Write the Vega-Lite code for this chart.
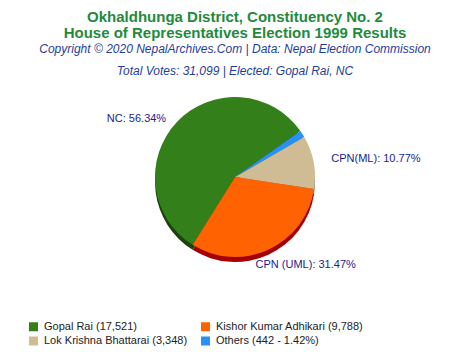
{
  "$schema": "https://vega.github.io/schema/vega-lite/v6.json",
  "width": 470,
  "height": 180,
  "padding": {"left": 0, "right": 0, "top": 10, "bottom": 0},
  "background": "white",
  "title": {
    "text": ["Okhaldhunga District, Constituency No. 2", "House of Representatives Election 1999 Results"],
    "subtitle": ["Copyright © 2020 NepalArchives.Com | Data: Nepal Election Commission", "Total Votes: 31,099 | Elected: Gopal Rai, NC"],
    "anchor": "middle",
    "font": "Liberation Sans",
    "fontSize": 15,
    "fontWeight": "bold",
    "color": "#238a3c",
    "lineHeight": 16,
    "subtitleFont": "Liberation Sans",
    "subtitleFontSize": 12,
    "subtitleFontStyle": "italic",
    "subtitleColor": "#1f3d9a",
    "subtitleLineHeight": 22,
    "subtitlePadding": 3,
    "offset": 10
  },
  "data": {
    "values": [
      {"candidate": "Gopal Rai (17,521)", "party": "NC", "votes": 17521, "label": "NC: 56.34%", "order": 1},
      {"candidate": "Others (442 - 1.42%)", "party": "Others", "votes": 442, "label": "", "order": 2},
      {"candidate": "Lok Krishna Bhattarai (3,348)", "party": "CPN(ML)", "votes": 3348, "label": "CPN(ML): 10.77%", "order": 3},
      {"candidate": "Kishor Kumar Adhikari (9,788)", "party": "CPN (UML)", "votes": 9788, "label": "CPN (UML): 31.47%", "order": 4}
    ]
  },
  "encoding": {
    "theta": {"field": "votes", "type": "quantitative", "stack": true, "scale": {"range": [3.700, 9.983]}},
    "order": {"field": "order", "type": "quantitative"}
  },
  "layer": [
    {
      "mark": {"type": "arc", "outerRadius": 80, "yOffset": 5},
      "encoding": {
        "color": {
          "field": "candidate", "type": "nominal", "legend": null,
          "scale": {
            "domain": ["Gopal Rai (17,521)", "Lok Krishna Bhattarai (3,348)", "Kishor Kumar Adhikari (9,788)", "Others (442 - 1.42%)"],
            "range": ["#1c4210", "#8c7d63", "#a50000", "#1060b0"]
          }
        }
      }
    },
    {
      "mark": {"type": "arc", "outerRadius": 80},
      "encoding": {
        "color": {
          "field": "candidate", "type": "nominal",
          "scale": {
            "domain": ["Gopal Rai (17,521)", "Lok Krishna Bhattarai (3,348)", "Kishor Kumar Adhikari (9,788)", "Others (442 - 1.42%)"],
            "range": ["#33801a", "#cfbb94", "#ff6200", "#2991f5"]
          },
          "legend": {
            "title": null, "orient": "none", "legendX": 28, "legendY": 234, "columns": 2, "gridAlign": "each",
            "symbolType": "square", "symbolSize": 81, "symbolStrokeWidth": 0,
            "labelFont": "Liberation Sans", "labelFontSize": 11, "labelColor": "#222222", "labelLimit": 300,
            "columnPadding": 12, "rowPadding": 2.5, "labelOffset": 5
          }
        }
      }
    },
    {
      "mark": {"type": "text", "radius": 92, "align": "right", "baseline": "middle", "dy": 5, "dx": -2, "font": "Liberation Sans", "fontSize": 11, "color": "#1c1c8c"},
      "encoding": {"text": {"condition": {"test": "datum.party === 'NC'", "field": "label", "type": "nominal"}, "value": ""}}
    },
    {
      "mark": {"type": "text", "radius": 98, "align": "left", "baseline": "middle", "font": "Liberation Sans", "fontSize": 11, "color": "#1c1c8c"},
      "encoding": {"text": {"condition": {"test": "datum.party === 'CPN(ML)'", "field": "label", "type": "nominal"}, "value": ""}}
    },
    {
      "mark": {"type": "text", "radius": 90, "align": "left", "baseline": "middle", "dx": -17, "dy": 6, "font": "Liberation Sans", "fontSize": 11, "color": "#1c1c8c"},
      "encoding": {"text": {"condition": {"test": "datum.party === 'CPN (UML)'", "field": "label", "type": "nominal"}, "value": ""}}
    }
  ],
  "resolve": {"scale": {"color": "independent"}},
  "config": {"view": {"stroke": null}}
}
